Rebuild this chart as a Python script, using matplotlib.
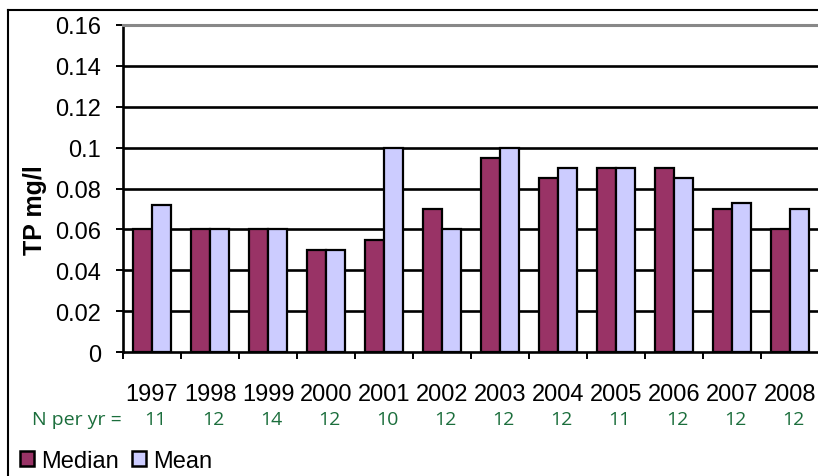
import matplotlib
matplotlib.use("Agg")
import matplotlib.pyplot as plt
from matplotlib.patches import Patch
from matplotlib.lines import Line2D
from matplotlib.transforms import blended_transform_factory
import numpy as np

years = ["1997", "1998", "1999", "2000", "2001", "2002",
         "2003", "2004", "2005", "2006", "2007", "2008"]
median_tp = [0.06, 0.06, 0.06, 0.05, 0.055, 0.07,
             0.095, 0.085, 0.09, 0.09, 0.07, 0.06]
mean_tp = [0.072, 0.06, 0.06, 0.05, 0.10, 0.06,
           0.10, 0.09, 0.09, 0.085, 0.073, 0.07]
n_per_year = [11, 12, 14, 12, 10, 12, 12, 12, 11, 12, 12, 12]
y_ticks = [0, 0.02, 0.04, 0.06, 0.08, 0.1, 0.12, 0.14, 0.16]
y_tick_labels = ["0", "0.02", "0.04", "0.06", "0.08", "0.1", "0.12", "0.14", "0.16"]

MEDIAN_COLOR = "#993366"
MEAN_COLOR = "#CCCCFF"
N_COLOR = "#1b6e3c"
FONT = "Liberation Sans"
N_FONT = ["Open Sans", "DejaVu Sans"]

W, H = 818, 477
fig = plt.figure(figsize=(W / 100, H / 100), dpi=100)
plt.rcParams["font.family"] = [FONT, "DejaVu Sans"]

# plot area in pixel units
left, right, top, bottom = 123, 819, 26, 353
ax = fig.add_axes([left / W, (H - bottom) / H, (right - left) / W, (bottom - top) / H])

x = np.arange(len(years)) + 0.5
bw = 0.33
ax.bar(x - bw / 2, median_tp, width=bw, color=MEDIAN_COLOR, edgecolor="black",
       linewidth=1.6, zorder=3, label="Median")
ax.bar(x + bw / 2, mean_tp, width=bw, color=MEAN_COLOR, edgecolor="black",
       linewidth=1.6, zorder=3, label="Mean")

ax.set_xlim(0, len(years))
ax.set_ylim(0, 0.16)

# horizontal gridlines
for v in y_ticks[1:-1]:
    ax.axhline(v, color="black", linewidth=1.9, zorder=1)

ax.set_yticks(y_ticks)
ax.set_yticklabels(y_tick_labels)
ax.tick_params(axis="y", direction="out", length=5, width=1.4, pad=11,
               labelsize=17, colors="black")

# category boundary ticks and centered year labels
ax.set_xticks(np.arange(len(years) + 1))
ax.set_xticklabels([])
ax.tick_params(axis="x", which="major", direction="out", length=5, width=1.4)
ax.set_xticks(x, minor=True)
ax.set_xticklabels(years, minor=True)
ax.tick_params(axis="x", which="minor", length=0, pad=22, labelsize=17)

for s in ["left", "bottom"]:
    ax.spines[s].set_linewidth(1.9)
    ax.spines[s].set_color("black")
ax.spines["top"].set_color("#888888")
ax.spines["top"].set_linewidth(2.2)
ax.spines["right"].set_visible(False)

fig.text(35 / W, 1 - 210 / H, "TP mg/l", rotation=90, ha="center", va="center",
         fontsize=18, fontweight="bold")

# sample counts under each year
trans = blended_transform_factory(ax.transData, fig.transFigure)
fig.text(32 / W, 1 - 420 / H, "N per yr =", ha="left", va="center",
         fontsize=14, color=N_COLOR, family=N_FONT)
for xi, n in zip(x, n_per_year):
    ax.text(xi + 0.05, 1 - 420 / H, str(n), transform=trans, ha="center",
            va="center", fontsize=14, color=N_COLOR, clip_on=False,
            family=N_FONT)

handles = [Patch(facecolor=MEDIAN_COLOR, edgecolor="black", linewidth=1.8),
           Patch(facecolor=MEAN_COLOR, edgecolor="black", linewidth=1.8)]
fig.legend(handles, ["Median", "Mean"], loc="center left",
           bbox_to_anchor=(20 / W, 1 - 462 / H), ncol=2, frameon=False,
           fontsize=17, handlelength=0.6, handleheight=0.6, handletextpad=0.3,
           columnspacing=0.55, borderpad=0, borderaxespad=0)

# chart-area frame
fig.add_artist(Line2D([8 / W, 8 / W], [0, 1 - 11 / H], color="black", linewidth=1.5,
                      transform=fig.transFigure))
fig.add_artist(Line2D([8 / W, 1], [1 - 11 / H, 1 - 11 / H], color="black",
                      linewidth=1.5, transform=fig.transFigure))

fig.savefig("out.png", dpi=100)
